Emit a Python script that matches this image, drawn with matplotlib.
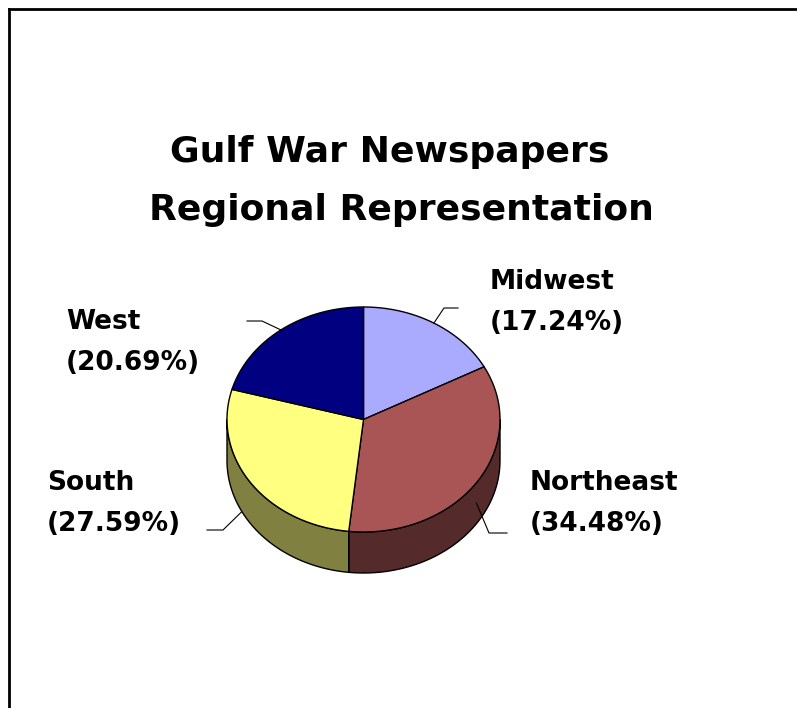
"""Gulf War newspapers by region, drawn as an Excel-style 3D pie."""

import numpy as np
import matplotlib
matplotlib.use("Agg")
import matplotlib.pyplot as plt
from matplotlib.patches import Polygon
from matplotlib.lines import Line2D

OUT_FILE = "out.png"

# data
regions = ["Midwest", "Northeast", "South", "West"]
papers = [5, 10, 8, 6]
top_colors = ["#AAAAFF", "#AA5555", "#FFFF80", "#000080"]
side_colors = ["#555580", "#552A2A", "#808040", "#000040"]

title_lines = ["Gulf War Newspapers", "Regional Representation"]

# layout (pixels, y down)
CX, CY, RX, RY, DEPTH = 363.5, 419.5, 136.5, 112.5, 41
# text x, first baseline, elbow (x, y), leader end x, leader on top
label_layout = {
    "Midwest": (490, 289, (444, 308), 458, True),
    "Northeast": (530, 490, (489, 533), 507, True),
    "South": (47, 490, (223, 530), 207, False),
    "West": (66, 329, (262, 321), 247, False),
}
LINE_GAP = 41


def arc(t0, t1, dy=0.0, n=80):
    t = np.radians(np.linspace(t0, t1, n))
    return np.column_stack([CX + RX * np.cos(t), CY - RY * np.sin(t) + dy])


def main() -> None:
    fig = plt.figure(figsize=(7.97, 7.08), dpi=100)
    ax = fig.add_axes([0, 0, 1, 1])
    ax.set_xlim(0, 797)
    ax.set_ylim(708, 0)
    ax.axis("off")

    total = sum(papers)
    shares = np.array(papers) / total
    ends = np.cumsum(shares)
    starts = ends - shares

    # side walls (front half only)
    visible = [(-180, 0), (180, 360), (-540, -360)]
    for s0, s1, col in zip(starts, ends, side_colors):
        a, b = 90 - 360 * s1, 90 - 360 * s0
        for v0, v1 in visible:
            lo, hi = max(a, v0), min(b, v1)
            if lo < hi:
                pts = np.vstack([arc(lo, hi), arc(hi, lo, DEPTH)])
                ax.add_patch(Polygon(pts, closed=True, facecolor=col,
                                     edgecolor="black", linewidth=1.0, zorder=2))

    # top face
    for s0, s1, col in zip(starts, ends, top_colors):
        a, b = 90 - 360 * s1, 90 - 360 * s0
        pts = np.vstack([[CX, CY], arc(a, b)])
        ax.add_patch(Polygon(pts, closed=True, facecolor=col,
                             edgecolor="black", linewidth=1.0, zorder=3))

    # labels with leader lines
    for name, s0, s1 in zip(regions, starts, ends):
        tx, base, elbow, end_x, on_top = label_layout[name]
        mid = np.radians(90 - 360 * (s0 + s1) / 2)
        ax_x = CX + RX * np.cos(mid)
        ax_y = CY - RY * np.sin(mid) + (DEPTH / 2 if np.sin(mid) < 0 else 0)
        ax.plot([ax_x, elbow[0], end_x], [ax_y, elbow[1], elbow[1]],
                color="black", linewidth=0.8, zorder=4 if on_top else 1)
        pct = 100 * (s1 - s0)
        for i, line in enumerate([name, f"({pct:.2f}%)"]):
            ax.text(tx, base + i * LINE_GAP, line, fontsize=19,
                    fontweight="bold", family="DejaVu Sans",
                    ha="left", va="baseline", zorder=5)

    # title
    ax.text(390, 162, title_lines[0], fontsize=26, fontweight="bold",
            family="DejaVu Sans", ha="center", va="baseline")
    ax.text(401, 220, title_lines[1], fontsize=26, fontweight="bold",
            family="DejaVu Sans", ha="center", va="baseline")

    # chart area border (left and top only are in frame)
    fig.add_artist(Line2D([9 / 797, 9 / 797], [0, 1 - 9 / 708],
                          transform=fig.transFigure, color="black",
                          linewidth=2.0, solid_capstyle="projecting"))
    fig.add_artist(Line2D([9 / 797, 1], [1 - 9 / 708, 1 - 9 / 708],
                          transform=fig.transFigure, color="black",
                          linewidth=2.0, solid_capstyle="projecting"))

    fig.savefig(OUT_FILE, dpi=100)


if __name__ == "__main__":
    main()
